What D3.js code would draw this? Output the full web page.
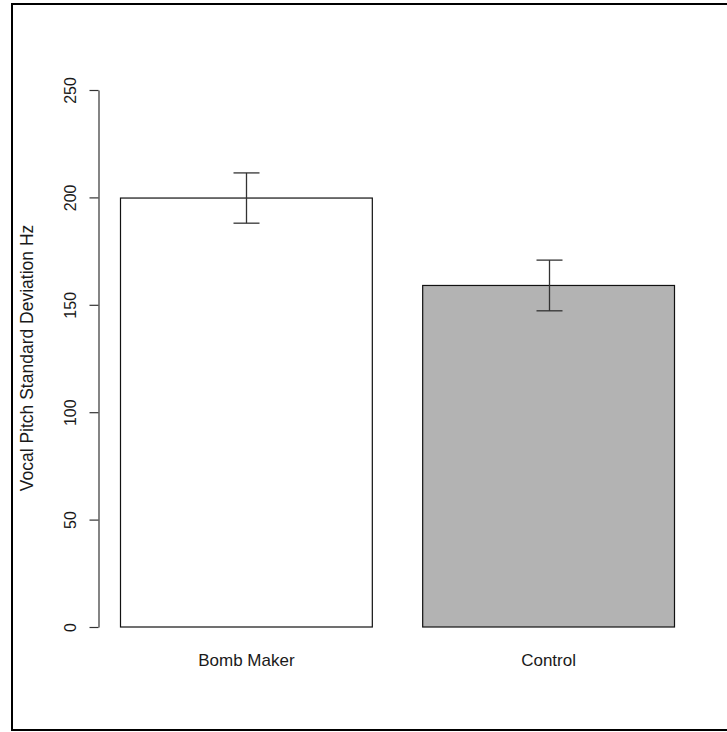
<!DOCTYPE html>
<html>
<head>
<meta charset="utf-8">
<script src="https://cdn.jsdelivr.net/npm/d3@7/dist/d3.min.js"></script>
<style>
  html, body { margin: 0; padding: 0; background: #fff; overflow: hidden; }
  svg { display: block; }
  text { font-family: "Liberation Sans", Arial, sans-serif; fill: #1a1a1a; }
</style>
</head>
<body>
<svg id="chart" width="727" height="732"></svg>
<script>
// Group means and standard errors of vocal pitch variability (Hz)
const groups = ["Bomb Maker", "Control"];
const means = [199.7, 159.0];
const stdErrors = [11.7, 11.8];
const barFills = ["#ffffff", "#b3b3b3"];
const yTicks = [0, 50, 100, 150, 200, 250];
const yTitle = "Vocal Pitch Standard Deviation Hz";

const svg = d3.select("#chart");

// Figure frame (right edge runs past the visible area)
svg.append("rect")
  .attr("x", 12).attr("y", 4)
  .attr("width", 740).attr("height", 726)
  .attr("fill", "none")
  .attr("stroke", "#000")
  .attr("stroke-width", 2);

const y = d3.scaleLinear().domain([0, 250]).range([627, 90]);
const x = d3.scaleBand().domain(groups).range([120.5, 674.5])
  .paddingInner(1 / 6).paddingOuter(0);

// Bars
svg.append("g").selectAll("rect")
  .data(groups)
  .join("rect")
  .attr("x", d => x(d))
  .attr("y", (d, i) => y(means[i]))
  .attr("width", x.bandwidth())
  .attr("height", (d, i) => y(0) - y(means[i]))
  .attr("fill", (d, i) => barFills[i])
  .attr("stroke", "#111")
  .attr("stroke-width", 1.2);

// Error bars (mean ± SE)
const capHalf = 13;
const eb = svg.append("g").attr("stroke", "#333").attr("stroke-width", 1.3);
groups.forEach((g, i) => {
  const cx = Math.round(x(g) + x.bandwidth() / 2) + 0.5;
  const top = y(means[i] + stdErrors[i]);
  const bot = y(means[i] - stdErrors[i]);
  eb.append("line").attr("x1", cx).attr("x2", cx).attr("y1", top).attr("y2", bot);
  eb.append("line").attr("x1", cx - capHalf).attr("x2", cx + capHalf).attr("y1", top).attr("y2", top);
  eb.append("line").attr("x1", cx - capHalf).attr("x2", cx + capHalf).attr("y1", bot).attr("y2", bot);
});

// Y axis
const yAxis = d3.axisLeft(y).tickValues(yTicks).tickSize(9).tickSizeOuter(0).tickPadding(0);
const ay = svg.append("g").attr("transform", "translate(98.5,0)").call(yAxis);
ay.select(".domain").attr("stroke", "#333").attr("stroke-width", 1.2);
ay.selectAll(".tick line").attr("stroke", "#333").attr("stroke-width", 1.2);
ay.selectAll(".tick text")
  .attr("x", 0).attr("y", 0)
  .attr("dy", null)
  .attr("transform", "translate(-23,0) rotate(-90)")
  .attr("text-anchor", "middle")
  .attr("font-size", 16)
  .attr("font-family", "Liberation Sans, Arial, sans-serif")
  .attr("fill", "#1a1a1a");

// Category labels
svg.append("g").selectAll("text")
  .data(groups)
  .join("text")
  .attr("x", d => x(d) + x.bandwidth() / 2)
  .attr("y", 666)
  .attr("text-anchor", "middle")
  .attr("font-size", 17)
  .text(d => d);

// Y axis title
svg.append("text")
  .attr("transform", "translate(33,358) rotate(-90)")
  .attr("text-anchor", "middle")
  .attr("font-size", 17.5)
  .text(yTitle);
</script>
</body>
</html>
